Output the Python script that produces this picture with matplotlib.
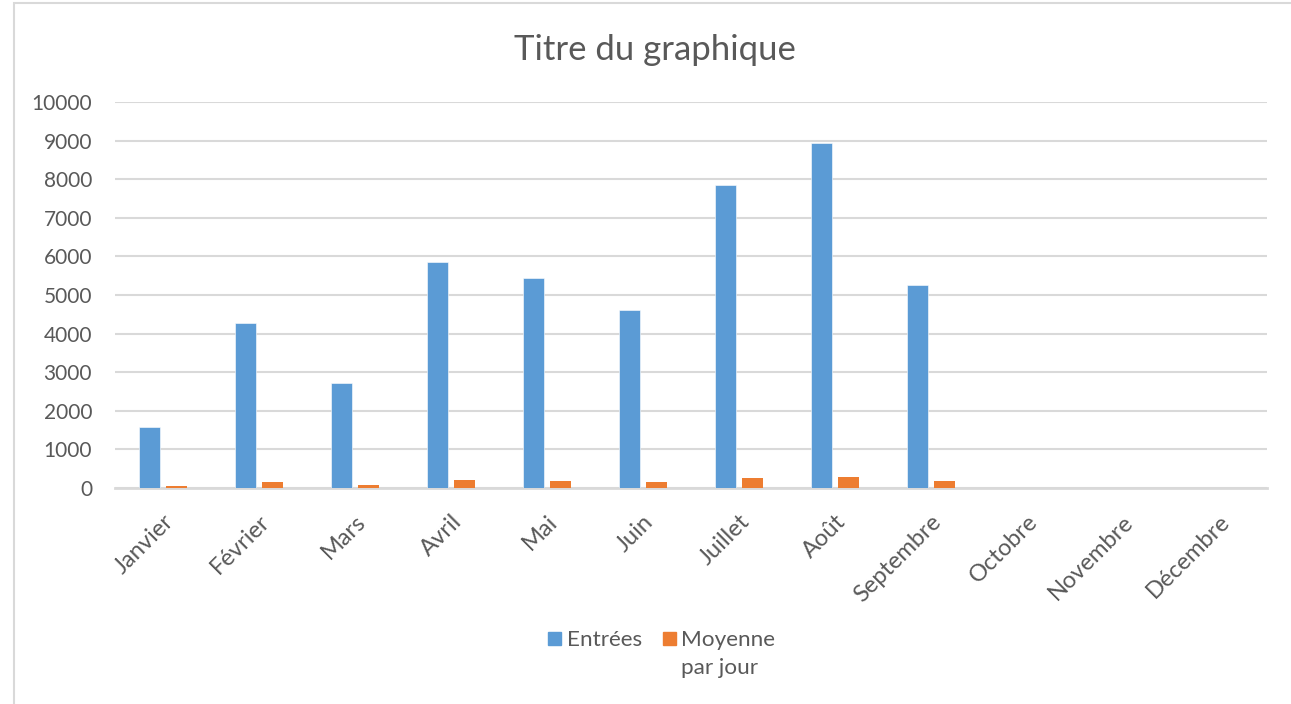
import matplotlib
matplotlib.use('Agg')
import numpy as np
import matplotlib.pyplot as plt
import matplotlib.transforms as mtransforms
from matplotlib.patches import Rectangle

# data
mois = ['Janvier', 'Février', 'Mars', 'Avril', 'Mai', 'Juin', 'Juillet',
        'Août', 'Septembre', 'Octobre', 'Novembre', 'Décembre']
entrees = [1570, 4270, 2710, 5855, 5450, 4600, 7850, 8940, 5250, 0, 0, 0]
moyenne = [51, 152, 87, 195, 176, 153, 253, 288, 175, 0, 0, 0]

BLUE = '#5B9BD5'
ORANGE = '#ED7D31'
GRID = '#D9D9D9'
TEXT = '#595959'

plt.rcParams['font.family'] = ['Lato', 'DejaVu Sans']

W, H = 1291, 704
fig = plt.figure(figsize=(W / 100, H / 100), dpi=100)

# chart area border
fig.patches.append(Rectangle((14 / W, -0.01), 1.1, 1 - 3 / H + 0.01,
                             transform=fig.transFigure, fill=False,
                             edgecolor=GRID, linewidth=1.5))

ax = fig.add_axes([115 / W, 1 - 488 / H, (1267 - 115) / W, (488 - 102) / H])

x = np.arange(len(mois))
width = 0.22
ax.bar(x - 0.143, entrees, width, color=BLUE, edgecolor='white', linewidth=0.4, zorder=3)
ax.bar(x + 0.143, moyenne, width, color=ORANGE, linewidth=0, zorder=3)

ax.set_xlim(-0.5, len(mois) - 0.5)
ax.set_ylim(0, 10000)
ax.set_yticks(np.arange(0, 10001, 1000))
ax.yaxis.grid(True, color=GRID, linewidth=1.5, zorder=0)
ax.set_axisbelow(True)

for s in ['top', 'right', 'left']:
    ax.spines[s].set_visible(False)
ax.spines['bottom'].set_color(GRID)
ax.spines['bottom'].set_linewidth(2)
ax.spines['bottom'].set_zorder(2)

ax.tick_params(axis='y', length=0, pad=16.5, labelsize=15, labelcolor=TEXT)
ax.tick_params(axis='x', length=0, pad=22, labelsize=17, labelcolor=TEXT)
ax.set_xticks(x)
ax.set_xticklabels(mois, rotation=45, ha='right', va='center', rotation_mode='anchor')
offset = mtransforms.ScaledTranslation(0.07, 0, fig.dpi_scale_trans)
for lab in ax.get_xticklabels():
    lab.set_transform(lab.get_transform() + offset)

# title
fig.text(655 / W, 1 - 60 / H, 'Titre du graphique', ha='center', va='baseline',
         fontsize=25, color=TEXT)

# legend, drawn by hand so the square sits on the first line
fig.patches.append(Rectangle((548 / W, 1 - 645 / H), 13 / W, 13 / H,
                             transform=fig.transFigure, color=BLUE))
fig.text(567 / W, 1 - 646 / H, 'Entrées', fontsize=16.2, color=TEXT, va='baseline')
fig.patches.append(Rectangle((663 / W, 1 - 645 / H), 13 / W, 13 / H,
                             transform=fig.transFigure, color=ORANGE))
fig.text(681 / W, 1 - 646 / H, 'Moyenne', fontsize=16.2, color=TEXT, va='baseline')
fig.text(681 / W, 1 - 674 / H, 'par jour', fontsize=16.2, color=TEXT, va='baseline')

fig.savefig('out.png', dpi=100)
